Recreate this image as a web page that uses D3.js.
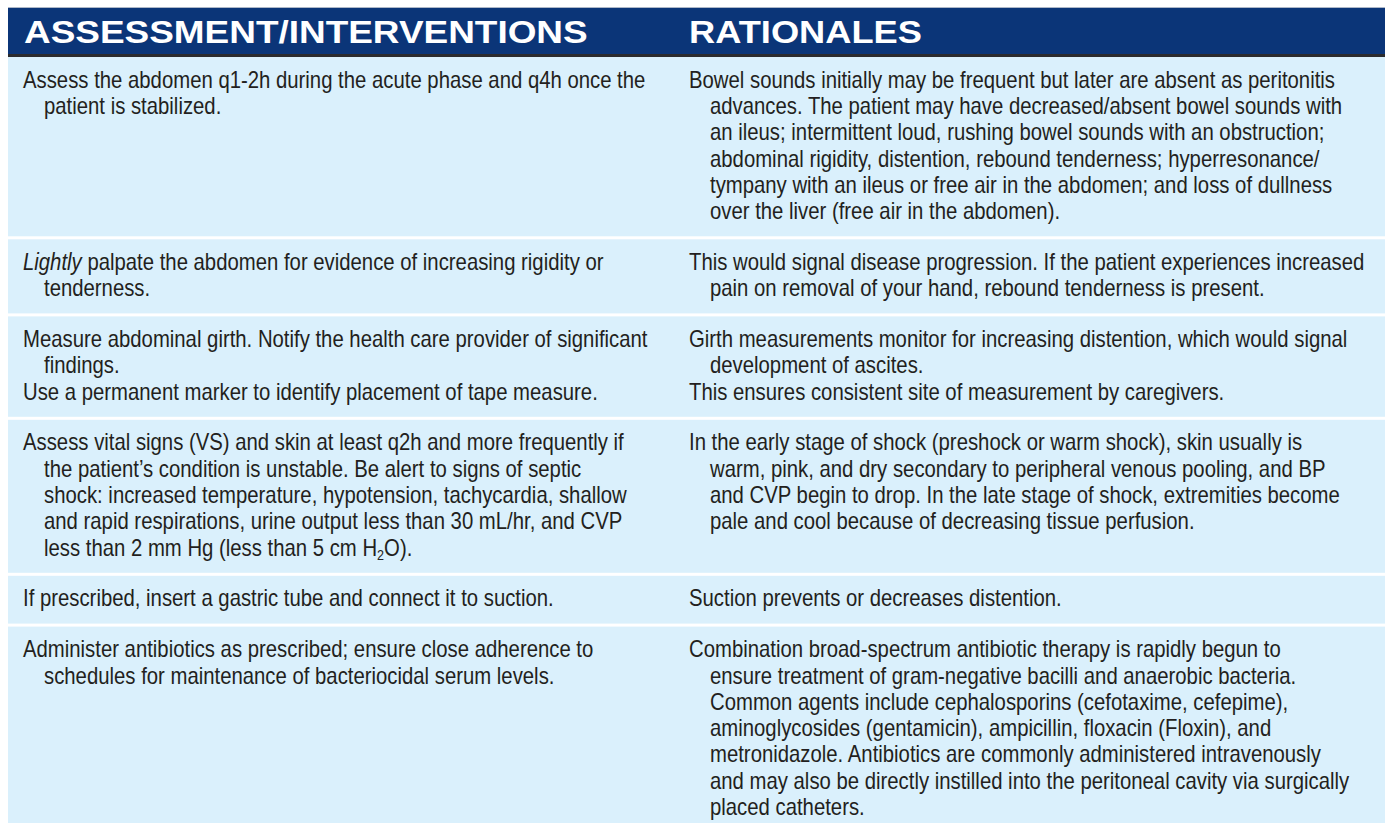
<!DOCTYPE html>
<html><head><meta charset="utf-8">
<script src="https://cdn.jsdelivr.net/npm/d3@7"></script>
<style>html,body{margin:0;padding:0;background:#fff;overflow:hidden}</style>
</head><body>
<svg id="c" width="1385" height="823"></svg>
<script>
const headers = ["ASSESSMENT/INTERVENTIONS", "RATIONALES"];

const interventions = [
  [["Assess the abdomen q1-2h during the acute phase and q4h once the", "patient is stabilized."]],
  [["<i>Lightly</i> palpate the abdomen for evidence of increasing rigidity or", "tenderness."]],
  [["Measure abdominal girth. Notify the health care provider of significant", "findings."],
   ["Use a permanent marker to identify placement of tape measure."]],
  [["Assess vital signs (VS) and skin at least q2h and more frequently if",
    "the patient\u2019s condition is unstable. Be alert to signs of septic",
    "shock: increased temperature, hypotension, tachycardia, shallow",
    "and rapid respirations, urine output less than 30 mL/hr, and CVP",
    "less than 2 mm Hg (less than 5 cm H<sub>2</sub>O)."]],
  [["If prescribed, insert a gastric tube and connect it to suction."]],
  [["Administer antibiotics as prescribed; ensure close adherence to",
    "schedules for maintenance of bacteriocidal serum levels."]]
];

const rationales = [
  [["Bowel sounds initially may be frequent but later are absent as peritonitis",
    "advances. The patient may have decreased/absent bowel sounds with",
    "an ileus; intermittent loud, rushing bowel sounds with an obstruction;",
    "abdominal rigidity, distention, rebound tenderness; hyperresonance/",
    "tympany with an ileus or free air in the abdomen; and loss of dullness",
    "over the liver (free air in the abdomen)."]],
  [["This would signal disease progression. If the patient experiences increased",
    "pain on removal of your hand, rebound tenderness is present."]],
  [["Girth measurements monitor for increasing distention, which would signal",
    "development of ascites."],
   ["This ensures consistent site of measurement by caregivers."]],
  [["In the early stage of shock (preshock or warm shock), skin usually is",
    "warm, pink, and dry secondary to peripheral venous pooling, and BP",
    "and CVP begin to drop. In the late stage of shock, extremities become",
    "pale and cool because of decreasing tissue perfusion."]],
  [["Suction prevents or decreases distention."]],
  [["Combination broad-spectrum antibiotic therapy is rapidly begun to",
    "ensure treatment of gram-negative bacilli and anaerobic bacteria.",
    "Common agents include cephalosporins (cefotaxime, cefepime),",
    "aminoglycosides (gentamicin), ampicillin, floxacin (Floxin), and",
    "metronidazole. Antibiotics are commonly administered intravenously",
    "and may also be directly instilled into the peritoneal cavity via surgically",
    "placed catheters."]]
];

// ---- layout constants ----
const W = 1385;
const tableLeft = 8;
const headTop = 8, headBottom = 54, ruleH = 3;
const bodyTop = headBottom + ruleH;
const LH = 26.3, padT = 10, padB = 11.5, sep = 3;
const colX = [23, 689], indent = 21;
const FONT = "'Liberation Sans',Arial,sans-serif";
const FS = 23;
const targetW = 623; // measured width of first left line

const svg = d3.select("#c");

const rows = interventions.map((L, i) => {
  const nl = d3.sum(L, it => it.length);
  const nr = d3.sum(rationales[i], it => it.length);
  return {i, left: L, right: rationales[i], n: Math.max(nl, nr)};
});
let acc = bodyTop;
rows.forEach(r => { r.y0 = acc; r.h = padT + r.n * LH + padB; acc += r.h + sep; });

const lineY = d3.scaleLinear().domain([0, 1]).range([0, LH]);

// header
svg.append("rect").attr("x", tableLeft).attr("y", headTop - 1).attr("width", W - tableLeft).attr("height", 1).attr("fill", "#aeb8c8");
svg.append("rect").attr("x", tableLeft).attr("y", headTop).attr("width", W - tableLeft).attr("height", headBottom - headTop).attr("fill", "#0b3578");
svg.append("rect").attr("x", tableLeft).attr("y", headBottom).attr("width", W - tableLeft).attr("height", ruleH).attr("fill", "#2b2b2e");

const headG = svg.selectAll("g.head").data(headers).join("g").attr("class", "head")
  .attr("transform", (d, i) => `translate(${i === 0 ? 24 : 689},${43})`);
const headT = headG.append("text").attr("font-family", "'Liberation Sans',Arial,sans-serif")
  .attr("font-weight", "bold").attr("font-size", 32).attr("fill", "#fff").text(d => d);
const headTargets = [564, 233];
headT.each(function (d, i) {
  const w = this.getComputedTextLength();
  d3.select(this).attr("transform", `scale(${headTargets[i] / w},1)`);
});

// row backgrounds
svg.selectAll("rect.row").data(rows).join("rect").attr("class", "row")
  .attr("x", tableLeft).attr("y", d => d.y0).attr("width", W - tableLeft).attr("height", d => d.h)
  .attr("fill", "#daf0fc");

// horizontal compression to mimic the condensed face
const probe = svg.append("text").attr("font-family", FONT).attr("font-size", FS).text(interventions[0][0][0]);
const sx = targetW / probe.node().getComputedTextLength();
probe.remove();

const lines = [];
rows.forEach(r => {
  [r.left, r.right].forEach((items, c) => {
    let k = 0;
    items.forEach(item => {
      item.forEach((s, j) => {
        lines.push({s, x: colX[c] + (j > 0 ? indent : 0), y: r.y0 + padT + lineY(k) + LH / 2 + 7.5});
        k++;
      });
    });
  });
});

function segs(s) {
  return s.split(/(<i>.*?<\/i>|<sub>.*?<\/sub>)/).filter(t => t.length).map(t => {
    if (t.startsWith("<i>")) return {t: t.slice(3, -4), it: true};
    if (t.startsWith("<sub>")) return {t: t.slice(5, -6), sub: true};
    return {t};
  });
}

const tg = svg.selectAll("g.line").data(lines).join("g").attr("class", "line")
  .attr("transform", d => `translate(${d.x},${d.y}) scale(${sx},1)`);
const tx = tg.append("text").attr("font-family", FONT).attr("font-size", FS).attr("fill", "#231f20");
tx.selectAll("tspan").data(d => segs(d.s)).join("tspan")
  .attr("font-style", d => d.it ? "italic" : null)
  .attr("font-size", d => d.sub ? FS * 0.62 : null)
  .attr("dy", d => d.sub ? 4 : null)
  .text(d => d.t);
tx.each(function () {
  const sp = d3.select(this).selectAll("tspan").nodes();
  for (let i = 1; i < sp.length; i++) {
    if (d3.select(sp[i - 1]).datum().sub) d3.select(sp[i]).attr("dy", -4);
  }
});
</script>
</body></html>
